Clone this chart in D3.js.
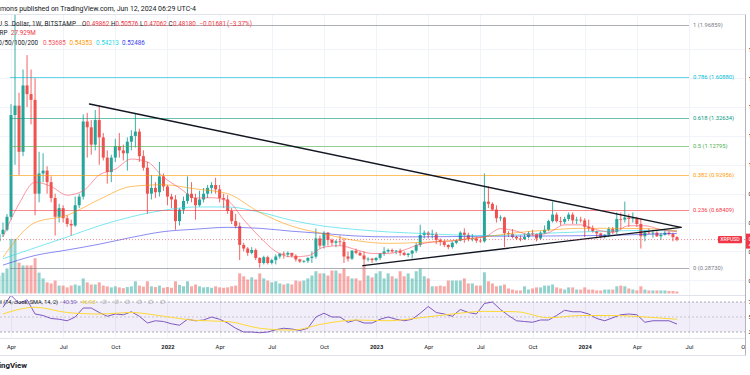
<!DOCTYPE html>
<html>
<head>
<meta charset="utf-8">
<script src="https://cdn.jsdelivr.net/npm/d3@7"></script>
<style>
html, body { margin: 0; padding: 0; background: #fff; }
svg { display: block; font-family: Roboto, "Noto Sans", sans-serif; }
</style>
</head>
<body>
<div id="chart"></div>
<script>
// XRP/USD weekly, Bitstamp. first bar = week of 2021-03-15
var firstWeek = "2021-03-15";

// [open, high, low, close, volume (M)]
var bars2021 = [
  [0.47, 0.56, 0.44, 0.52, 250], [0.52, 0.60, 0.50, 0.55, 290], [0.55, 0.66, 0.54, 0.64, 350],
  [0.64, 1.42, 0.62, 1.345, 760], [1.345, 2.06, 1.00, 1.41, 760], [1.41, 1.50, 0.93, 1.09, 430],
  [1.09, 1.66, 1.06, 1.55, 390], [1.55, 1.76, 1.40, 1.49, 390], [1.49, 1.66, 1.28, 1.45, 390],
  [1.45, 1.60, 0.65, 0.80, 490], [0.80, 1.09, 0.74, 0.94, 290], [0.94, 1.08, 0.88, 0.96, 210],
  [0.96, 0.99, 0.80, 0.88, 155], [0.88, 0.92, 0.74, 0.77, 140], [0.77, 0.80, 0.51, 0.64, 180],
  [0.64, 0.73, 0.60, 0.70, 110], [0.70, 0.72, 0.60, 0.63, 110], [0.63, 0.65, 0.57, 0.59, 85],
  [0.59, 0.62, 0.51, 0.58, 110], [0.58, 0.78, 0.57, 0.72, 125], [0.72, 0.80, 0.70, 0.78, 110],
  [0.78, 1.35, 0.76, 1.30, 210], [1.30, 1.36, 1.05, 1.26, 155], [1.26, 1.31, 1.07, 1.14, 125],
  [1.14, 1.38, 1.10, 1.31, 125], [1.31, 1.41, 1.00, 1.19, 155], [1.19, 1.22, 1.03, 1.05, 110],
  [1.05, 1.10, 0.87, 0.95, 100], [0.95, 1.07, 0.88, 1.05, 85], [1.05, 1.18, 1.02, 1.13, 100],
  [1.13, 1.22, 1.05, 1.10, 85], [1.10, 1.14, 1.03, 1.08, 75], [1.08, 1.19, 0.96, 1.16, 90],
  [1.16, 1.24, 1.10, 1.20, 100], [1.20, 1.357, 1.12, 1.23, 170], [1.23, 1.25, 1.02, 1.06, 110],
  [1.06, 1.10, 0.96, 0.98, 95], [0.98, 1.02, 0.66, 0.80, 170], [0.80, 0.93, 0.76, 0.84, 100],
  [0.84, 0.88, 0.77, 0.81, 90], [0.81, 1.02, 0.78, 0.92, 110], [0.92, 0.94, 0.82, 0.85, 80]
];
var bars2022 = [
  [0.85, 0.86, 0.72, 0.78, 90], [0.78, 0.80, 0.70, 0.76, 80], [0.76, 0.79, 0.55, 0.61, 170],
  [0.61, 0.70, 0.58, 0.69, 120], [0.69, 0.78, 0.66, 0.75, 100], [0.75, 0.92, 0.73, 0.80, 170],
  [0.80, 0.88, 0.74, 0.77, 100], [0.77, 0.80, 0.62, 0.72, 125], [0.72, 0.82, 0.71, 0.76, 100],
  [0.76, 0.84, 0.74, 0.80, 85], [0.80, 0.86, 0.77, 0.84, 90], [0.84, 0.88, 0.80, 0.86, 80],
  [0.86, 0.91, 0.80, 0.83, 100], [0.83, 0.86, 0.74, 0.77, 85], [0.77, 0.80, 0.70, 0.76, 80],
  [0.76, 0.79, 0.66, 0.68, 85], [0.68, 0.70, 0.59, 0.61, 100], [0.61, 0.66, 0.56, 0.575, 110],
  [0.575, 0.60, 0.34, 0.445, 280], [0.445, 0.46, 0.40, 0.42, 240], [0.42, 0.43, 0.37, 0.39, 195],
  [0.39, 0.43, 0.38, 0.41, 225], [0.41, 0.42, 0.34, 0.355, 195], [0.355, 0.36, 0.2873, 0.32, 280],
  [0.32, 0.37, 0.31, 0.36, 210], [0.36, 0.37, 0.31, 0.32, 180], [0.32, 0.35, 0.31, 0.34, 155],
  [0.34, 0.38, 0.31, 0.365, 170], [0.365, 0.39, 0.35, 0.385, 140], [0.385, 0.40, 0.35, 0.378, 125],
  [0.378, 0.40, 0.36, 0.39, 140], [0.39, 0.39, 0.36, 0.37, 125], [0.37, 0.38, 0.33, 0.345, 180],
  [0.345, 0.35, 0.32, 0.33, 170], [0.33, 0.34, 0.32, 0.335, 180], [0.335, 0.36, 0.32, 0.355, 210],
  [0.355, 0.40, 0.32, 0.364, 250], [0.364, 0.56, 0.35, 0.49, 310], [0.49, 0.51, 0.42, 0.44, 280],
  [0.44, 0.54, 0.42, 0.53, 280], [0.53, 0.535, 0.44, 0.48, 250], [0.48, 0.49, 0.44, 0.46, 320],
  [0.46, 0.48, 0.43, 0.47, 320], [0.47, 0.51, 0.44, 0.465, 280], [0.465, 0.49, 0.32, 0.365, 350],
  [0.365, 0.40, 0.33, 0.35, 240], [0.35, 0.41, 0.34, 0.405, 210], [0.405, 0.42, 0.38, 0.39, 210],
  [0.39, 0.40, 0.37, 0.372, 180], [0.372, 0.40, 0.30, 0.345, 390], [0.345, 0.36, 0.33, 0.35, 250],
  [0.35, 0.355, 0.32, 0.34, 225]
];
var bars2023 = [
  [0.34, 0.36, 0.33, 0.355, 280], [0.355, 0.39, 0.34, 0.385, 310], [0.385, 0.43, 0.37, 0.40, 210],
  [0.40, 0.42, 0.39, 0.41, 280], [0.41, 0.42, 0.39, 0.40, 240], [0.40, 0.41, 0.38, 0.405, 210],
  [0.405, 0.42, 0.37, 0.39, 310], [0.39, 0.40, 0.37, 0.375, 240], [0.375, 0.39, 0.36, 0.385, 280],
  [0.385, 0.41, 0.35, 0.405, 210], [0.405, 0.46, 0.39, 0.445, 310], [0.445, 0.585, 0.43, 0.514, 350],
  [0.514, 0.545, 0.49, 0.53, 240], [0.53, 0.54, 0.49, 0.515, 210], [0.515, 0.55, 0.49, 0.52, 100],
  [0.52, 0.535, 0.45, 0.48, 100], [0.48, 0.49, 0.44, 0.465, 110], [0.465, 0.48, 0.43, 0.445, 100],
  [0.445, 0.45, 0.415, 0.43, 180], [0.43, 0.47, 0.42, 0.46, 180], [0.46, 0.48, 0.45, 0.475, 180],
  [0.475, 0.54, 0.47, 0.53, 180], [0.53, 0.56, 0.46, 0.515, 210], [0.515, 0.53, 0.47, 0.485, 140],
  [0.485, 0.52, 0.47, 0.49, 140], [0.49, 0.50, 0.46, 0.475, 110], [0.475, 0.49, 0.46, 0.47, 110],
  [0.47, 0.94, 0.46, 0.745, 295], [0.745, 0.85, 0.70, 0.73, 170], [0.73, 0.74, 0.68, 0.69, 140],
  [0.69, 0.72, 0.60, 0.63, 100], [0.63, 0.65, 0.61, 0.635, 110], [0.635, 0.64, 0.43, 0.526, 125],
  [0.526, 0.54, 0.50, 0.52, 70], [0.52, 0.555, 0.49, 0.50, 55], [0.50, 0.51, 0.48, 0.49, 42],
  [0.49, 0.51, 0.47, 0.485, 42], [0.485, 0.525, 0.48, 0.50, 100], [0.50, 0.54, 0.49, 0.525, 55],
  [0.525, 0.55, 0.51, 0.52, 70], [0.52, 0.525, 0.47, 0.49, 85], [0.49, 0.54, 0.48, 0.53, 85],
  [0.53, 0.58, 0.52, 0.55, 110], [0.55, 0.62, 0.54, 0.61, 110], [0.61, 0.745, 0.60, 0.655, 125],
  [0.655, 0.67, 0.60, 0.61, 85], [0.61, 0.64, 0.58, 0.605, 70], [0.605, 0.64, 0.59, 0.625, 55],
  [0.625, 0.67, 0.61, 0.655, 85], [0.655, 0.67, 0.59, 0.615, 85], [0.615, 0.64, 0.59, 0.62, 55],
  [0.62, 0.64, 0.60, 0.615, 55]
];
var bars2024 = [
  [0.615, 0.63, 0.50, 0.57, 85], [0.57, 0.62, 0.54, 0.56, 55], [0.56, 0.58, 0.53, 0.54, 55],
  [0.54, 0.545, 0.49, 0.525, 42], [0.525, 0.53, 0.49, 0.50, 42], [0.50, 0.52, 0.49, 0.515, 55],
  [0.515, 0.57, 0.50, 0.555, 55], [0.555, 0.57, 0.52, 0.535, 55], [0.535, 0.67, 0.52, 0.625, 100],
  [0.625, 0.67, 0.55, 0.62, 110], [0.62, 0.745, 0.60, 0.635, 100], [0.635, 0.66, 0.57, 0.625, 70],
  [0.625, 0.67, 0.60, 0.63, 55], [0.63, 0.64, 0.57, 0.59, 42], [0.59, 0.63, 0.42, 0.505, 100],
  [0.505, 0.55, 0.47, 0.53, 55], [0.53, 0.56, 0.52, 0.525, 42], [0.525, 0.55, 0.495, 0.53, 42],
  [0.53, 0.54, 0.50, 0.505, 42], [0.505, 0.53, 0.48, 0.515, 42], [0.515, 0.55, 0.51, 0.53, 42],
  [0.53, 0.54, 0.51, 0.52, 35], [0.52, 0.53, 0.47, 0.49862, 35], [0.49862, 0.50576, 0.47062, 0.48180, 27.929]
];

// moving averages, starting week of 2021-03-22
var ma20 = [0.50, 0.73, 0.88, 0.85, 0.79, 0.82, 0.93, 0.97, 1.04, 1.02, 0.915, 0.84, 0.77, 0.772, 0.75,
  0.62, 0.50, 0.40, 0.362, 0.37, 0.43, 0.44, 0.412, 0.386, 0.386, 0.41, 0.45, 0.467, 0.472, 0.49, 0.50,
  0.558, 0.54, 0.512, 0.53, 0.584, 0.584, 0.55, 0.532, 0.578, 0.578, 0.55, 0.53685];   // every 4 weeks
var ma50 = [0.36, 0.60, 0.65, 0.76, 0.85, 0.862, 0.833, 0.80, 0.67, 0.575, 0.522, 0.475, 0.456, 0.462,
  0.475, 0.50, 0.53, 0.548, 0.56, 0.56, 0.558, 0.54353];                                   // every 8 weeks
var ma100 = [0.35, 0.425, 0.50, 0.578, 0.64, 0.685, 0.708, 0.708, 0.672, 0.615, 0.575, 0.552, 0.535,
  0.525, 0.515, 0.51, 0.514, 0.527, 0.535, 0.542, 0.545, 0.54213];
var ma200 = [0.305, 0.372, 0.41, 0.45, 0.497, 0.537, 0.554, 0.567, 0.56, 0.54, 0.524, 0.507, 0.501,
  0.501, 0.503, 0.505, 0.506, 0.507, 0.509, 0.512, 0.518, 0.52486];

// RSI 14 every 2 weeks, its SMA 14 every 8 weeks
var rsi = [63, 79, 68, 73, 54, 52, 48, 47, 45, 50, 62, 62, 56, 51, 54, 53, 57, 51, 42, 45,
  44, 41, 39, 47, 45, 46, 50, 47, 42, 35, 30, 30, 29, 30, 33, 35, 34, 32, 35, 50,
  55, 50, 50, 43, 46, 42, 42, 47, 50, 47, 45, 47, 55, 64, 56, 54, 51, 60, 56, 54,
  68, 70, 60, 52, 45, 44, 43, 46, 46, 52, 59, 57, 57, 54, 48, 45, 49, 53, 54, 53,
  43, 45, 45, 45, 40.59];
var rsiMa = [54, 63, 56, 54, 56, 51, 45.5, 44, 35, 32.5, 41, 46, 45, 49, 54, 57.5, 57, 49, 52, 52, 50, 46.93];

var fibLevels = ["1", "0.786", "0.618", "0.5", "0.382", "0.236", "0"];
var fibPrices = [1.96859, 1.60880, 1.32634, 1.12795, 0.92956, 0.68409, 0.28730];
var fibColors = ["#787b86", "#00bcd4", "#089981", "#4caf50", "#ff9800", "#f23645", "#787b86"];

var priceTicks = [0.2, 0.4, 0.6, 0.8, 1.0, 1.2, 1.4, 1.6, 1.8];
var timeTicks = [
  ["2021-04-05", "Apr"], ["2021-07-05", "Jul"], ["2021-10-04", "Oct"], ["2022-01-03", "2022"],
  ["2022-04-04", "Apr"], ["2022-07-04", "Jul"], ["2022-10-03", "Oct"], ["2023-01-02", "2023"],
  ["2023-04-03", "Apr"], ["2023-07-03", "Jul"], ["2023-10-02", "Oct"], ["2024-01-01", "2024"],
  ["2024-04-01", "Apr"], ["2024-07-01", "Jul"], ["2024-10-07", "Oct"]
];

// drawings
var upperTrend = [["2021-08-20", 1.4214], ["2024-06-17", 0.5665]];
var lowerTrend = [["2022-12-10", 0.302], ["2024-06-17", 0.5665]];
var fibSpan = ["2021-04-03", "2024-07-01"];

var lastClose = 0.48180;
var maValues = ["0.53685", "0.54353", "0.54213", "0.52486"];
var maColors = ["#f7525f", "#ff9800", "#26d7e6", "#3d3de8"];
var up = "#26a69a", down = "#ef5350", red = "#f23645", ink = "#131722";

var W = 750, H = 375;
var paneRight = 745.5;

function weekDate(n) {
  return d3.utcDay.offset(new Date(firstWeek), 7 * n);
}

var bars = bars2021.concat(bars2022, bars2023, bars2024).map(function(b, n) {
  return {date: weekDate(n), o: b[0], h: b[1], l: b[2], c: b[3], v: b[4]};
});

var x = d3.scaleUtc().domain([new Date("2021-04-05"), new Date("2024-07-01")]).range([11, 689]);
var y = d3.scaleLinear().domain([0.2873, 1.96859]).range([267.7, 25]);
var vol = d3.scaleLinear().domain([0, 800]).range([293.5, 236]);
var ry = d3.scaleLinear().domain([30, 70]).range([332, 302]);

var svg = d3.select("#chart").append("svg")
    .attr("width", W)
    .attr("height", H);

svg.append("rect").attr("width", W).attr("height", H).attr("fill", "#fff");

var defs = svg.append("defs");
defs.append("clipPath").attr("id", "mainClip")
  .append("rect").attr("x", 0).attr("y", 14.5).attr("width", paneRight).attr("height", 281);
defs.append("clipPath").attr("id", "rsiClip")
  .append("rect").attr("x", 0).attr("y", 296).attr("width", paneRight).attr("height", 42.5);

// grid
var grid = svg.append("g");
grid.selectAll(".vgrid").data(timeTicks).enter().append("line")
    .attr("x1", function(d) { return Math.round(x(new Date(d[0]))) + 0.5; })
    .attr("x2", function(d) { return Math.round(x(new Date(d[0]))) + 0.5; })
    .attr("y1", 14.5).attr("y2", 338.5)
    .attr("stroke", "#f0f3fa");
grid.selectAll(".hgrid").data(priceTicks).enter().append("line")
    .attr("x1", 0).attr("x2", paneRight)
    .attr("y1", function(d) { return Math.round(y(d)) + 0.5; })
    .attr("y2", function(d) { return Math.round(y(d)) + 0.5; })
    .attr("stroke", "#f0f3fa");

var main = svg.append("g").attr("clip-path", "url(#mainClip)");

// volume
main.selectAll(".vol").data(bars).enter().append("rect")
    .attr("x", function(d) { return x(d.date) - 1.5; })
    .attr("width", 3)
    .attr("y", function(d) { return vol(d.v); })
    .attr("height", function(d) { return vol(0) - vol(d.v); })
    .attr("fill", function(d) { return d.c >= d.o ? up : down; })
    .attr("opacity", 0.5);

// candles
var candle = main.selectAll(".candle").data(bars).enter().append("g");
candle.append("line")
    .attr("x1", function(d) { return x(d.date); })
    .attr("x2", function(d) { return x(d.date); })
    .attr("y1", function(d) { return y(d.h); })
    .attr("y2", function(d) { return y(d.l); })
    .attr("stroke", function(d) { return d.c >= d.o ? up : down; })
    .attr("stroke-width", 0.9);
candle.append("rect")
    .attr("x", function(d) { return x(d.date) - 1.5; })
    .attr("width", 3)
    .attr("y", function(d) { return y(Math.max(d.o, d.c)); })
    .attr("height", function(d) { return Math.max(0.8, Math.abs(y(d.o) - y(d.c))); })
    .attr("fill", function(d) { return d.c >= d.o ? up : down; });

// moving averages
function maLine(values, step) {
  return d3.line()
    .x(function(d, k) { return x(weekDate(1 + step * k)); })
    .y(function(d) { return y(d); })
    .curve(d3.curveMonotoneX)(values);
}
[[ma200, 8], [ma100, 8], [ma50, 8], [ma20, 4]].forEach(function(m, j) {
  main.append("path")
    .attr("d", maLine(m[0], m[1]))
    .attr("fill", "none")
    .attr("stroke", maColors[3 - j])
    .attr("stroke-width", 1)
    .attr("opacity", 0.6);
});

// fib retracement
var fib = main.append("g");
fibPrices.forEach(function(p, i) {
  fib.append("line")
    .attr("x1", x(new Date(fibSpan[0]))).attr("x2", x(new Date(fibSpan[1])))
    .attr("y1", Math.round(y(p)) + 0.5).attr("y2", Math.round(y(p)) + 0.5)
    .attr("stroke", fibColors[i])
    .attr("opacity", 0.6);
});

// trend lines
[upperTrend, lowerTrend].forEach(function(t) {
  main.append("line")
    .attr("x1", x(new Date(t[0][0]))).attr("y1", y(t[0][1]))
    .attr("x2", x(new Date(t[1][0]))).attr("y2", y(t[1][1]))
    .attr("stroke", ink)
    .attr("stroke-width", 1.4)
    .attr("stroke-linecap", "round");
});

// last price line
main.append("line")
    .attr("x1", 0).attr("x2", paneRight)
    .attr("y1", y(lastClose)).attr("y2", y(lastClose))
    .attr("stroke", red)
    .attr("stroke-dasharray", "1,2")
    .attr("opacity", 0.6);

// fib labels
fibPrices.forEach(function(p, i) {
  svg.append("text")
    .attr("x", 693)
    .attr("y", y(p))
    .attr("dy", "0.35em")
    .attr("font-size", "5.8px")
    .attr("fill", fibColors[i])
    .text(fibLevels[i] + " (" + p.toFixed(5) + ")");
});

// XRPUSD tag
svg.append("rect")
    .attr("x", 718).attr("y", y(lastClose) - 3.6)
    .attr("width", 24).attr("height", 7.2).attr("rx", 1)
    .attr("fill", red);
svg.append("text")
    .attr("x", 730).attr("y", y(lastClose)).attr("dy", "0.35em")
    .attr("text-anchor", "middle")
    .attr("font-size", "5.2px")
    .attr("fill", "#fff")
    .text("XRPUSD");

// RSI pane
var rsiG = svg.append("g").attr("clip-path", "url(#rsiClip)");
rsiG.append("rect")
    .attr("x", 0).attr("width", paneRight)
    .attr("y", ry(70)).attr("height", ry(30) - ry(70))
    .attr("fill", "#7e57c2").attr("opacity", 0.1);
[70, 50, 30].forEach(function(v) {
  rsiG.append("line")
    .attr("x1", 0).attr("x2", paneRight)
    .attr("y1", ry(v)).attr("y2", ry(v))
    .attr("stroke", "#787b86")
    .attr("stroke-dasharray", "2,2")
    .attr("opacity", v == 50 ? 0.35 : 0.6);
});
rsiG.append("path")
    .attr("d", d3.line()
      .x(function(d, k) { return x(weekDate(1 + 2 * k)); })
      .y(function(d) { return ry(d); })(rsi))
    .attr("fill", "none")
    .attr("stroke", "#7e57c2")
    .attr("stroke-width", 1);
rsiG.append("path")
    .attr("d", d3.line()
      .x(function(d, k) { return x(weekDate(1 + 8 * k)); })
      .y(function(d) { return ry(d); })
      .curve(d3.curveMonotoneX)(rsiMa))
    .attr("fill", "none")
    .attr("stroke", "#fdd835")
    .attr("stroke-width", 1);

// pane borders
var borders = svg.append("g").attr("stroke", "#e0e3eb");
borders.append("line").attr("x1", 0).attr("x2", paneRight).attr("y1", 14.5).attr("y2", 14.5);
borders.append("line").attr("x1", 0).attr("x2", paneRight).attr("y1", 295.5).attr("y2", 295.5);
borders.append("line").attr("x1", 0).attr("x2", W).attr("y1", 338.5).attr("y2", 338.5);
borders.append("line").attr("x1", 0).attr("x2", W).attr("y1", 355.5).attr("y2", 355.5);

// time axis
var xAxis = d3.axisBottom(x)
    .tickValues(timeTicks.map(function(d) { return new Date(d[0]); }))
    .tickFormat(function(d, i) { return timeTicks[i][1]; })
    .tickSize(0)
    .tickPadding(6);
var xg = svg.append("g").attr("transform", "translate(0,339)").call(xAxis);
xg.select(".domain").remove();
xg.selectAll("text")
    .attr("font-size", "5.8px")
    .attr("font-family", "Roboto, sans-serif")
    .attr("fill", ink)
    .attr("font-weight", function(d, i) { return timeTicks[i][1].length == 4 ? "bold" : "normal"; });

// right price scale column
svg.append("rect").attr("x", paneRight).attr("y", 0).attr("width", 5).attr("height", H).attr("fill", "#fff");
svg.append("line").attr("x1", paneRight).attr("x2", paneRight).attr("y1", 14.5).attr("y2", 355.5)
    .attr("stroke", "#b2b5be");

var yAxis = d3.axisRight(y).tickValues(priceTicks).tickFormat(d3.format(".2f")).tickSize(0).tickPadding(3);
var yg = svg.append("g").attr("transform", "translate(" + paneRight + ",0)").call(yAxis);
yg.select(".domain").remove();
yg.selectAll("text").attr("font-size", "5.8px").attr("font-family", "Roboto, sans-serif").attr("fill", ink);

var rAxis = d3.axisRight(ry).tickValues([70, 50, 30]).tickFormat(d3.format(".2f")).tickSize(0).tickPadding(3);
var rg = svg.append("g").attr("transform", "translate(" + paneRight + ",0)").call(rAxis);
rg.select(".domain").remove();
rg.selectAll("text").attr("font-size", "5.8px").attr("font-family", "Roboto, sans-serif").attr("fill", ink);

svg.append("rect")
    .attr("x", paneRight + 0.5).attr("y", y(lastClose) - 6)
    .attr("width", 12).attr("height", 15)
    .attr("fill", red);
svg.append("text").attr("x", 748.5).attr("y", y(lastClose) + 1)
    .attr("font-size", "5.8px").attr("fill", "#fff").text("0.48180");
svg.append("text").attr("x", 748.5).attr("y", y(lastClose) + 7.5)
    .attr("font-size", "5.8px").attr("fill", "#fff").text("4d 17h");

// legend texts, each piece placed where the reference shows it
function piece(px, py, size, color, str, anchor) {
  return svg.append("text")
    .attr("x", px).attr("y", py)
    .attr("font-size", size + "px")
    .attr("fill", color)
    .attr("text-anchor", anchor || "start")
    .text(str);
}

piece(0, 10.5, 7, ink, "mons published on TradingView.com, Jun 12, 2024 06:29 UTC-4")
    .attr("textLength", 196).attr("lengthAdjust", "spacing");

piece(-2, 25.5, 6.3, ink, "U.S. Dollar, 1W, BITSTAMP")
    .attr("textLength", 78).attr("lengthAdjust", "spacing");
var ohlcPieces = [[82, "O", ink], [86.5, "0.49862", red], [111, "H", ink], [115.5, "0.50576", red],
  [140, "L", ink], [144, "0.47062", red], [168.5, "C", ink], [173, "0.48180", red],
  [199.5, "\u22120.01681", red], [227, "(\u22123.37%)", red]];
ohlcPieces.forEach(function(p) { piece(p[0], 25.5, 6.3, p[2], p[1]); });

piece(-0.5, 34.5, 6.3, ink, "RP");
piece(11, 34.5, 6.3, red, "27.929M");

piece(38, 44.5, 6.3, ink, "20/50/100/200", "end");
[43, 69.5, 96, 122].forEach(function(px, i) {
  piece(px, 44.5, 6.3, maColors[i], maValues[i]);
});

piece(58, 304, 5.6, ink, "RSI (14, close, SMA, 14, 2)", "end");
piece(62.5, 304, 5.6, "#7e57c2", "40.59");
piece(81.5, 304, 5.6, "#e8c31a", "46.93");
[102, 113.5, 125, 136.5, 148, 159.5].forEach(function(px) {
  piece(px, 304, 5.6, "#9598a1", "\u2205");
});

piece(27, 368, 7.8, ink, "TradingView", "end").attr("font-weight", "bold");
</script>
</body>
</html>
